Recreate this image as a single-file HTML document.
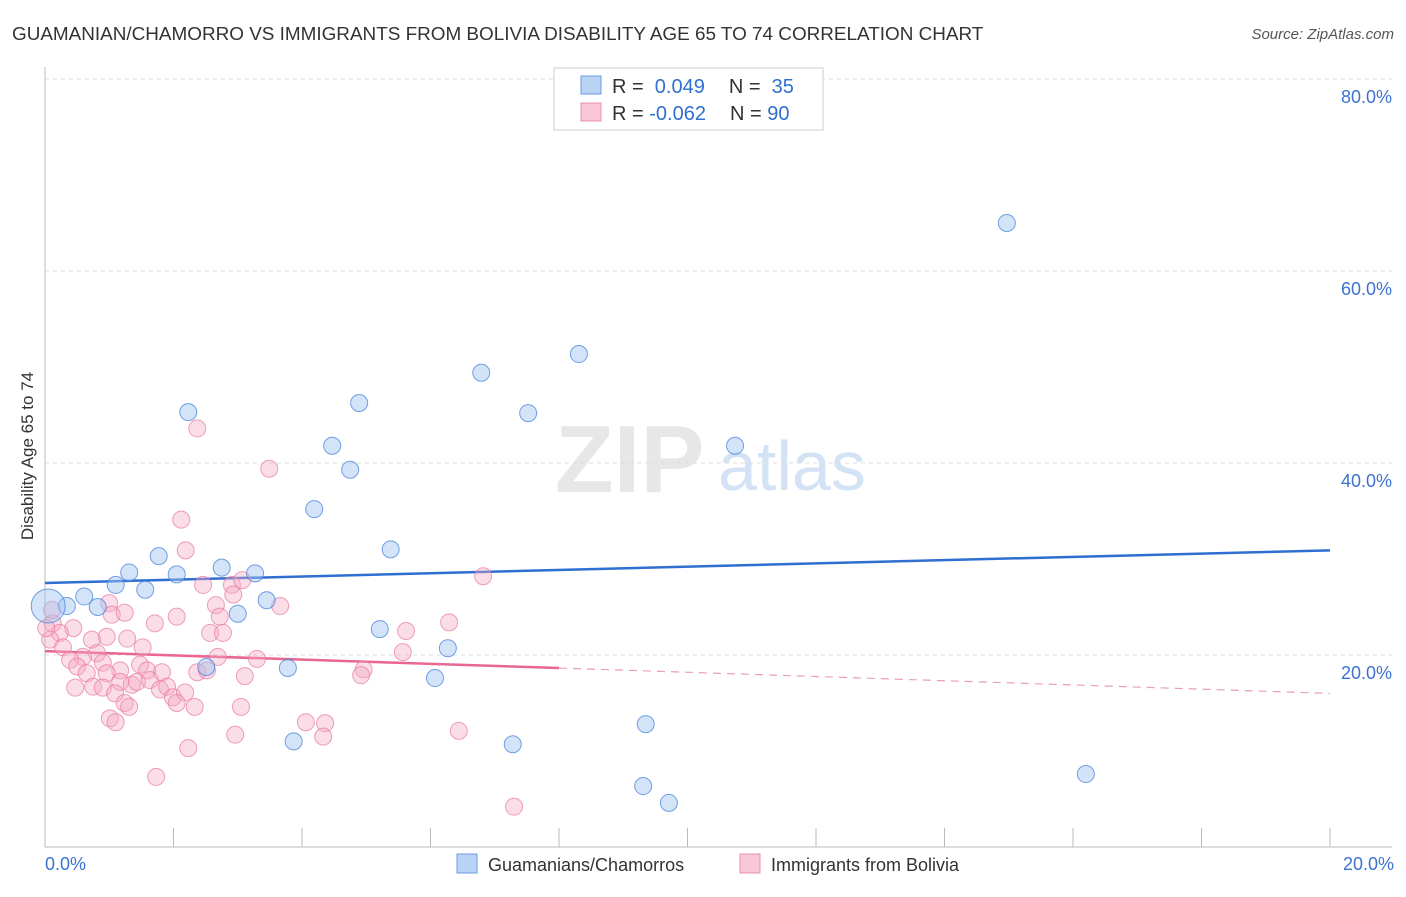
<!DOCTYPE html>
<html><head><meta charset="utf-8"><style>
body{margin:0;background:#fff;font-family:"Liberation Sans",sans-serif;}
svg text{font-family:"Liberation Sans",sans-serif;}
</style></head><body>
<svg id="chart" width="1406" height="892" xmlns="http://www.w3.org/2000/svg">
<text x="12" y="40" font-size="18.9" fill="#333">GUAMANIAN/CHAMORRO VS IMMIGRANTS FROM BOLIVIA DISABILITY AGE 65 TO 74 CORRELATION CHART</text>
<text x="1394" y="39" font-size="15" fill="#555" text-anchor="end" font-style="italic">Source: ZipAtlas.com</text>
<text transform="translate(33,456) rotate(-90)" font-size="17" fill="#333" text-anchor="middle">Disability Age 65 to 74</text>
<text x="555" y="492" font-size="96" fill="#ddd" font-family="Liberation Serif" font-weight="bold" opacity="0.7">ZIP</text>
<text x="718" y="490" font-size="70" fill="#c9dbf2" opacity="0.8">atlas</text>
<g id="grid"></g><g id="axes"></g><g id="trends"></g><g id="pts"></g>
<g>
<rect x="554" y="68" width="269" height="62" fill="#fff" stroke="#ccc"/>
<rect x="581" y="76" width="20" height="18" fill="#b9d3f5" stroke="#6b9be0"/>
<rect x="581" y="103" width="20" height="18" fill="#f9c7d6" stroke="#e890ac"/>
<text x="612" y="93" font-size="20" fill="#333">R = <tspan fill="#2f6fd1">&#160;0.049</tspan><tspan dx="24" fill="#333">N = </tspan><tspan fill="#2f6fd1">&#160;35</tspan></text>
<text x="612" y="120" font-size="20" fill="#333">R = <tspan fill="#2f6fd1">-0.062</tspan><tspan dx="24" fill="#333">N = </tspan><tspan fill="#2f6fd1">90</tspan></text>
</g>
<g>
<rect x="457" y="854" width="20" height="19" fill="#b9d3f5" stroke="#6b9be0"/>
<text x="488" y="871" font-size="18" fill="#333">Guamanians/Chamorros</text>
<rect x="740" y="854" width="20" height="19" fill="#f9c7d6" stroke="#e890ac"/>
<text x="771" y="871" font-size="18" fill="#333">Immigrants from Bolivia</text>
</g>
</svg>
<script>
const blueX=[14.97,8.31,6.79,4.89,7.52,2.23,4.47,10.74,4.75,4.19,5.38,1.77,1.31,2.05,2.75,3.27,1.10,1.56,0.61,0.34,0.82,0.05,3.00,3.45,5.21,6.27,2.51,3.78,6.07,9.35,3.87,7.28,16.2,9.31,9.71];
const blueY=[65.0,51.35,49.4,46.25,45.2,45.3,41.8,41.8,39.3,35.2,31.0,30.3,28.6,28.4,29.1,28.5,27.3,26.8,26.1,25.1,25.0,25.1,24.3,25.7,22.7,20.7,18.75,18.65,17.6,12.8,11.0,10.7,7.6,6.35,4.6];
const pinkX=[2.12,2.19,2.46,2.91,3.07,2.93,2.66,3.66,2.72,1.00,1.04,1.24,2.05,1.71,2.57,2.77,0.44,0.12,0.23,0.96,1.28,1.52,0.73,0.08,0.28,2.69,3.30,0.81,0.59,0.39,0.90,1.17,1.48,1.59,1.82,2.37,2.52,3.11,0.50,0.65,0.96,0.47,0.75,0.90,1.17,1.35,1.43,1.63,1.79,1.90,1.99,2.18,2.33,1.09,1.24,1.31,2.05,3.05,1.01,1.10,2.96,2.23,4.06,4.36,4.33,2.37,3.49,6.82,5.62,6.29,5.57,4.96,4.92,6.44,7.30,1.73,0.11,0.02];
const pinkY=[34.1,30.9,27.3,27.3,27.8,26.3,25.2,25.1,24.0,25.4,24.2,24.4,24.0,23.3,22.3,22.3,22.8,23.3,22.3,21.9,21.7,20.8,21.6,21.6,20.8,19.8,19.6,20.2,19.8,19.5,19.2,18.4,19.0,18.4,18.2,18.2,18.4,17.8,18.8,18.1,18.1,16.6,16.7,16.6,17.2,16.9,17.2,17.4,16.4,16.7,15.6,16.1,14.6,16.0,15.0,14.6,15.0,14.6,13.4,13.0,11.7,10.3,13.0,12.9,11.5,43.6,39.4,28.2,22.5,23.4,20.3,18.5,17.9,12.1,4.2,7.3,24.7,22.8];
const blueTrend=[27.5,30.9];
const pinkTrend=[20.4,16.0];
const pinkSolidEnd=8;
const yTicks=[20,40,60,80];
const xTickLabels=["0.0%","20.0%"];
const NS="http://www.w3.org/2000/svg";
const X=v=>45+v/20*1285, Y=v=>847-v/20*192;
function mk(tag,attrs,parent){const e=document.createElementNS(NS,tag);for(const k in attrs)e.setAttribute(k,attrs[k]);document.getElementById(parent).appendChild(e);return e;}
yTicks.forEach(t=>{
  const l=mk('line',{x1:45,x2:1392,y1:Y(t),y2:Y(t),stroke:'#ddd','stroke-dasharray':'4,4'},'grid');
  
  
  const tx=mk('text',{x:1392,y:Y(t)+24,'font-size':18,fill:'#3b73d1','text-anchor':'end'},'grid');
  tx.textContent=t.toFixed(1)+'%';
  
  
});
let a=mk('line',{x1:45,x2:45,y1:67,y2:847,stroke:'#bbb'},'axes');


a=mk('line',{x1:45,x2:1392,y1:847,y2:847,stroke:'#bbb'},'axes');


for(let i=0;i<=10;i++){const t=mk('line',{x1:X(i*2),x2:X(i*2),y1:828,y2:847,stroke:'#bbb'},'axes');
  
  }
[[0,'start',45],[20,'end',1394]].forEach((d,i)=>{const t=mk('text',{x:d[2],y:870,'font-size':18,fill:'#3b73d1','text-anchor':d[1]},'axes');t.textContent=xTickLabels[i];
  
  });
let tl=mk('line',{x1:X(0),y1:Y(blueTrend[0]),x2:X(20),y2:Y(blueTrend[1]),stroke:'#2f6fd1','stroke-width':2.5},'trends');


const pAt=x=>pinkTrend[0]+(pinkTrend[1]-pinkTrend[0])*x/20;
tl=mk('line',{x1:X(0),y1:Y(pinkTrend[0]),x2:X(pinkSolidEnd),y2:Y(pAt(pinkSolidEnd)),stroke:'#e8668f','stroke-width':2.5},'trends');


tl=mk('line',{x1:X(pinkSolidEnd),y1:Y(pAt(pinkSolidEnd)),x2:X(20),y2:Y(pinkTrend[1]),stroke:'#e8a0b6','stroke-width':1.2,'stroke-dasharray':'8,6'},'trends');


pinkX.forEach((x,i)=>{const c=mk('circle',{cx:X(x),cy:Y(pinkY[i]),r:8.5,fill:'rgba(246,170,195,0.4)',stroke:'rgba(232,120,160,0.7)'},'pts');
  
  });
blueX.forEach((x,i)=>{const c=mk('circle',{cx:X(x),cy:Y(blueY[i]),r:i==21?17:8.5,fill:'rgba(160,195,240,0.45)',stroke:'rgba(70,130,220,0.75)'},'pts');
  
  });
</script>
</body></html>
